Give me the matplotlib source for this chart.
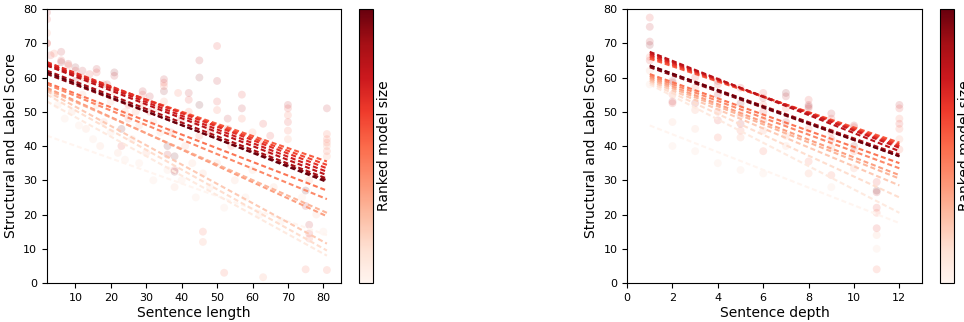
import numpy as np
import matplotlib
matplotlib.use("Agg")
import matplotlib.pyplot as plt
from matplotlib.colors import Normalize
from matplotlib.cm import ScalarMappable

n_models = 16
cmap = plt.get_cmap("Reds")

# fitted regression line per ranked model (score at first and last x)
len_fit_x = [2, 81]
len_fit_start = [43, 53, 55, 56, 56.5, 57, 58, 58.5, 63.5, 64, 64.5, 64, 63.5, 62, 61, 61.5]
len_fit_end = [14, 8, 9.5, 11.5, 20.5, 19.5, 24.5, 27, 35.5, 34.5, 33.5, 32.5, 31.5, 30.5, 30, 29.5]

depth_fit_x = [1, 12]
depth_fit_start = [46, 58, 58.5, 59, 59.5, 60, 60.5, 61, 65.5, 66, 66.5, 67, 67.5, 63.5, 63, 63.5]
depth_fit_end = [17.5, 20.5, 25, 28.5, 30.5, 31.5, 33.5, 35, 41, 40.5, 40, 39.5, 38.5, 37.5, 37, 37]

# per-sentence scores (x, score, model rank)
len_x = [2, 2, 2, 2, 2, 3, 4, 6, 6, 6, 8, 8, 10, 10, 10, 12, 12, 14, 14, 16, 16, 18, 19, 21, 21, 21,
         23, 23, 25, 25, 27, 29, 29, 29, 31, 31, 33, 35, 35, 35, 35, 35, 36, 36, 37, 38, 38, 38, 39, 40,
         42, 42, 42, 44, 45, 45, 45, 45, 46, 46, 47, 48, 50, 50, 50, 50, 52, 53, 53, 54, 57, 57, 57, 60,
         63, 63, 63, 65, 65, 70, 70, 70, 70, 70, 70, 75, 75, 75, 76, 76, 76, 76, 81, 81, 81, 81, 81, 81, 81, 81,
         4, 5, 7, 9, 11, 13, 15, 17, 18, 20, 22, 24, 26, 28, 30, 32, 34, 36, 38, 40, 41, 43, 44, 46, 48, 50,
         52, 55, 58, 60, 62, 66, 68, 72, 74, 78, 80, 16, 24, 32, 12, 20, 28]
len_y = [79, 77, 73, 70, 70, 66.5, 67, 67.5, 64.5, 65, 64, 63.5, 63, 62, 59, 62, 60, 61, 59, 62.5, 61.5, 58, 58, 61.5, 60.5, 56,
         45, 40, 52, 48, 50, 56, 55, 52, 54.5, 50, 51, 59.5, 58.5, 57.5, 56, 53, 40, 37.5, 44, 37, 32.5, 33, 55.5, 48,
         55.5, 53.5, 50, 47, 65, 60, 52, 43, 15, 12, 46, 44, 69.2, 59, 53, 50.5, 3, 48, 45, 40, 55, 51, 48, 44,
         46.5, 41, 1.7, 43, 38, 52, 51, 49, 47, 44.5, 42, 27, 22.5, 4, 17, 14.5, 13, 30, 51, 43.5, 42, 41, 40, 38.5, 37, 3.8,
         55, 52, 48, 50, 46, 45, 42, 40, 47, 44, 38, 36, 42, 35, 38, 30, 44, 33, 28, 30, 40, 35, 25, 32, 28, 35,
         22, 30, 25, 33, 20, 28, 18, 35, 25, 20, 15, 52, 50, 47, 55, 53, 46]
len_r = [12, 10, 6, 12, 8, 10, 8, 12, 14, 10, 12, 8, 14, 10, 12, 12, 8, 10, 6, 12, 10, 8, 12, 14, 12, 6,
         15, 10, 10, 8, 6, 12, 10, 8, 12, 10, 6, 12, 10, 8, 14, 6, 15, 12, 8, 15, 14, 10, 8, 10,
         12, 10, 8, 6, 12, 14, 15, 8, 8, 6, 6, 10, 10, 12, 10, 8, 8, 12, 10, 8, 10, 12, 8, 6,
         10, 8, 6, 10, 8, 12, 10, 8, 10, 8, 6, 15, 12, 8, 12, 10, 8, 6, 12, 8, 8, 8, 6, 8, 6, 8,
         4, 3, 3, 4, 3, 4, 3, 4, 5, 3, 4, 3, 4, 3, 5, 3, 4, 3, 4, 3, 5, 4, 3, 4, 3, 4,
         3, 4, 3, 4, 3, 4, 3, 4, 3, 4, 3, 5, 5, 5, 5, 5, 5]

depth_x = [1, 1, 1, 1, 1, 1, 1, 1,
           2, 2, 2, 2, 2, 2, 2,
           3, 3, 3, 3, 3, 3,
           4, 4, 4, 4, 4, 4, 4,
           5, 5, 5, 5, 5, 5, 5,
           6, 6, 6, 6, 6, 6, 6, 6,
           7, 7, 7, 7, 7, 7,
           8, 8, 8, 8, 8, 8, 8,
           9, 9, 9, 9, 9, 9, 9,
           10, 10, 10, 10, 10,
           11, 11, 11, 11, 11, 11, 11, 11, 11,
           12, 12, 12, 12, 12, 12, 12]
depth_y = [77.5, 74.8, 70.5, 69.5, 66, 65, 62, 58,
           59, 58.5, 55, 53, 52.5, 47, 40,
           60, 57, 52.5, 50.5, 45, 38.5,
           59, 58, 55, 50, 47.5, 42.5, 35,
           57, 52.5, 49, 46.5, 44.5, 42.5, 33,
           55.5, 54, 52, 50, 47.5, 44.5, 38.5, 32,
           55.5, 54.5, 51, 47, 43, 40,
           53.5, 52, 51.5, 51, 45, 35.5, 32,
           49.5, 48, 44, 42, 39.5, 31.5, 28,
           46, 45.5, 40, 38.5, 33.5,
           29.5, 27, 26.5, 22, 20.5, 16, 14, 10, 4,
           52, 51, 48, 46.5, 45, 42, 39]
depth_r = [10, 12, 12, 14, 8, 10, 4, 3,
           14, 10, 8, 12, 10, 4, 3,
           10, 8, 12, 6, 4, 3,
           12, 10, 12, 8, 10, 8, 3,
           10, 14, 8, 12, 8, 6, 3,
           10, 12, 8, 10, 8, 6, 8, 3,
           14, 12, 8, 12, 6, 4,
           10, 12, 14, 10, 8, 8, 6,
           12, 10, 8, 10, 6, 8, 3,
           12, 10, 14, 8, 6,
           10, 15, 12, 10, 8, 10, 4, 3, 8,
           12, 10, 8, 10, 8, 6, 8]

norm = Normalize(vmin=0, vmax=n_models - 1)

fig = plt.figure(figsize=(9.64, 3.22), dpi=100)
panels = [
    (len_x, len_y, len_r, len_fit_x, len_fit_start, len_fit_end, "Sentence length",
     [0.0488, 0.121, 0.305, 0.851], [0.3724, 0.121, 0.0145, 0.851], (2, 85), range(10, 90, 10)),
    (depth_x, depth_y, depth_r, depth_fit_x, depth_fit_start, depth_fit_end, "Sentence depth",
     [0.6505, 0.121, 0.306, 0.851], [0.9751, 0.121, 0.0145, 0.851], (0, 13), range(0, 13, 2)),
]

for xs, ys, rs, fx, fs, fe, xlabel, ax_pos, cb_pos, xlim, xticks in panels:
    ax = fig.add_axes(ax_pos)
    ax.scatter(xs, ys, c=[cmap(norm(r)) for r in rs], s=32, alpha=0.14, linewidths=0)
    for rank in range(n_models):
        ax.plot(fx, [fs[rank], fe[rank]], color=cmap(norm(rank)), lw=1.5,
                linestyle=(0, (2.4, 1.4)))
    ax.set_xlim(*xlim)
    ax.set_ylim(0, 80)
    ax.set_xticks(list(xticks))
    ax.tick_params(labelsize=8)
    ax.set_xlabel(xlabel, fontsize=10, labelpad=2)
    ax.set_ylabel("Structural and Label Score", fontsize=10, labelpad=4)

    cax = fig.add_axes(cb_pos)
    cb = fig.colorbar(ScalarMappable(norm=norm, cmap=cmap), cax=cax)
    cb.set_ticks([])
    cb.set_label("Ranked model size", fontsize=10, labelpad=3)

fig.savefig("out.png", dpi=100)
